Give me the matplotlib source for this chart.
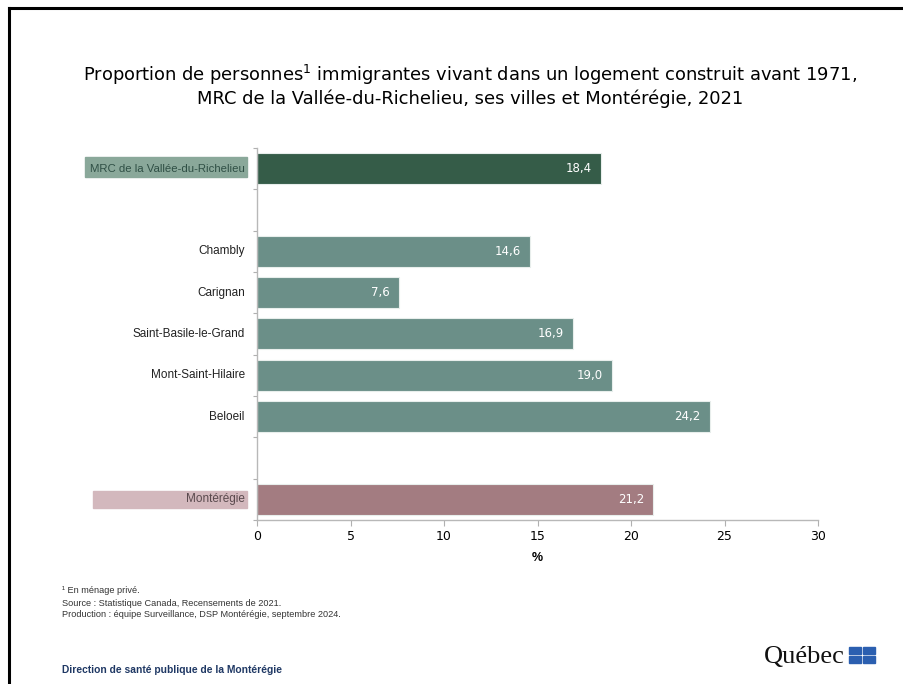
import matplotlib
matplotlib.use('Agg')
import matplotlib.pyplot as plt
from matplotlib.patches import Rectangle
import matplotlib.transforms as mtransforms

# data
labels = ['MRC de la Vallée-du-Richelieu', '', 'Chambly', 'Carignan',
          'Saint-Basile-le-Grand', 'Mont-Saint-Hilaire', 'Beloeil', '', 'Montérégie']
values = [18.4, None, 14.6, 7.6, 16.9, 19.0, 24.2, None, 21.2]
kinds = ['mrc', None, 'ville', 'ville', 'ville', 'ville', 'ville', None, 'region']
xticks = [0, 5, 10, 15, 20, 25, 30]

colors = {'mrc': '#355c48', 'ville': '#6b8f88', 'region': '#a37c81'}

plt.rcParams['font.family'] = ['Liberation Sans', 'DejaVu Sans']

fig = plt.figure(figsize=(9.04, 6.84), dpi=100)
ax = fig.add_axes([0.2843, 0.2398, 0.6206, 0.5438])

for i, (v, k) in enumerate(zip(values, kinds)):
    if v is None:
        continue
    ax.barh(i, v, height=0.75, color=colors[k], edgecolor='#e8eeec', linewidth=0.8)
    ax.text(v - 0.5, i, f'{v:.1f}'.replace('.', ','), ha='right', va='center',
            color='white', fontsize=8.5, family='DejaVu Sans')

ax.set_ylim(len(labels) - 0.5, -0.5)
ax.set_xlim(0, 30)
ax.set_xticks(xticks)
ax.set_xticklabels([str(t) for t in xticks], fontsize=9, family='DejaVu Sans')
ax.set_xlabel('%', fontsize=9, fontweight='bold', labelpad=6)

# category labels between tick marks (Excel style)
ax.set_yticks([i + 0.5 for i in range(-1, len(labels))])
ax.set_yticklabels([])
ax.tick_params(axis='y', length=3, color='#b0b0b0')
ax.tick_params(axis='x', length=4, color='#b0b0b0')
for sp in ['top', 'right']:
    ax.spines[sp].set_visible(False)
for sp in ['left', 'bottom']:
    ax.spines[sp].set_color('#b8b8b8')
    ax.spines[sp].set_linewidth(1)

trans = mtransforms.blended_transform_factory(ax.transAxes, ax.transData)
for i, (lab, k) in enumerate(zip(labels, kinds)):
    if not lab:
        continue
    if k == 'mrc':
        ax.add_patch(Rectangle((-0.307, i - 0.29), 0.29, 0.5, transform=trans,
                               color='#8aa89a', clip_on=False, zorder=1))
        ax.text(-0.022, i, lab, transform=trans, ha='right', va='center',
                fontsize=8.2, color='#2f4f45', zorder=2)
    elif k == 'region':
        ax.add_patch(Rectangle((-0.292, i - 0.2), 0.274, 0.42, transform=trans,
                               color='#d3b8bd', clip_on=False, zorder=1))
        ax.text(-0.022, i, lab, transform=trans, ha='right', va='center',
                fontsize=8.5, color='#5a4a4e', zorder=2)
    else:
        ax.text(-0.022, i, lab, transform=trans, ha='right', va='center',
                fontsize=8.5, color='#222222')

fig.text(0.52, 0.89, 'Proportion de personnes$^{1}$ immigrantes vivant dans un logement construit avant 1971,',
         ha='center', va='center', fontsize=12.9, family='DejaVu Sans')
fig.text(0.52, 0.856, 'MRC de la Vallée-du-Richelieu, ses villes et Montérégie, 2021',
         ha='center', va='center', fontsize=12.9, family='DejaVu Sans')

fig.text(0.069, 0.137, '¹ En ménage privé.', fontsize=6.6, color='#333333', va='center')
fig.text(0.069, 0.118, 'Source : Statistique Canada, Recensements de 2021.', fontsize=6.6,
         color='#333333', va='center')
fig.text(0.069, 0.101, 'Production : équipe Surveillance, DSP Montérégie, septembre 2024.',
         fontsize=6.6, color='#333333', va='center')
fig.text(0.069, 0.02, 'Direction de santé publique de la Montérégie', fontsize=7.4,
         fontweight='bold', color='#1f3864', va='center')

# Québec signature
fig.text(0.935, 0.04, 'Québec', ha='right', va='center', fontsize=19,
         family='Liberation Serif', color='#111111')
for dx, dy in [(0, 0), (0.0155, 0), (0, -0.0125), (0.0155, -0.0125)]:
    fig.add_artist(Rectangle((0.939 + dx, 0.0435 + dy), 0.0135, 0.0105,
                             transform=fig.transFigure, color='#2b5fb0'))

# frame around the slide
fig.add_artist(plt.Line2D([0.0105, 0.0105], [0, 0.9885], transform=fig.transFigure,
                          color='black', lw=2.2))
fig.add_artist(plt.Line2D([0.0105, 1.0], [0.9885, 0.9885], transform=fig.transFigure,
                          color='black', lw=2.2))

fig.savefig('out.png', dpi=100)
